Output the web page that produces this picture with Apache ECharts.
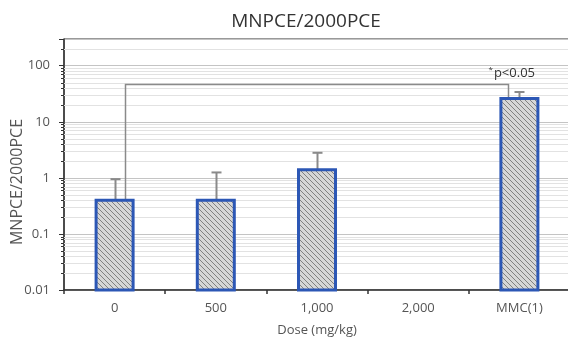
<!DOCTYPE html>
<html><head><meta charset="utf-8">
<script src="https://cdn.jsdelivr.net/npm/echarts@6/dist/echarts.min.js"></script>
<style>html,body{margin:0;padding:0;background:#fff}#c{width:568px;height:340px}</style>
</head><body><div id="c"></div>
<script>
// ---- data ----
const categories = ['0', '500', '1,000', '2,000', 'MMC(1)'];
const means = [0.4, 0.4, 1.4, null, 26];
const errUpper = [0.95, 1.25, 2.8, null, 34];
const yTickLabels = ['0.01', '0.1', '1', '10', '100'];
const sigLevel = 48;
const sigFrom = 0;
const sigTo = 4;
const sigText = 'p<0.05';
const titleText = 'MNPCE/2000PCE';
const yName = 'MNPCE/2000PCE';
const xName = 'Dose (mg/kg)';

const FONT = 'Open Sans';
const Y_MIN = 0.01, Y_MAX = 300;

// hatch pattern
const pc = document.createElement('canvas');
pc.width = 5; pc.height = 5;
const g = pc.getContext('2d');
g.fillStyle = '#d6d6d6'; g.fillRect(0, 0, 5, 5);
g.strokeStyle = '#808080'; g.lineWidth = 1;
g.beginPath();
g.moveTo(-1, -1); g.lineTo(6, 6);
g.moveTo(-1, 4); g.lineTo(1, 6);
g.moveTo(4, -1); g.lineTo(6, 1);
g.stroke();

// minor gridline values (2..9 x each decade)
const minorVals = [];
[0.01, 0.1, 1, 10, 100].forEach(d => { for (let k = 2; k <= 9; k++) { const v = +(d * k).toPrecision(3); if (v < Y_MAX) minorVals.push(v); } });

const chart = echarts.init(document.getElementById('c'));
chart.setOption({
  animation: false,
  backgroundColor: '#fff',
  title: {
    text: titleText, left: 301, top: 7, textAlign: 'center',
    textStyle: { fontFamily: FONT, fontSize: 19, fontWeight: 'normal', color: '#333' }
  },
  graphic: [{
    type: 'text', x: 17, y: 182, rotation: Math.PI / 2, silent: true,
    style: { text: yName, align: 'center', verticalAlign: 'middle', fontFamily: FONT, fontSize: 16, fill: '#555' }
  }],
  grid: { left: 64, top: 39, width: 506, bottom: 50, show: true, borderColor: '#333', borderWidth: 1, containLabel: false, outerBoundsMode: 'none' },
  xAxis: {
    type: 'category', data: categories, boundaryGap: true,
    name: xName, nameLocation: 'middle', nameGap: 34,
    nameTextStyle: { fontFamily: FONT, fontSize: 13, color: '#555' },
    axisLine: { lineStyle: { color: '#333', width: 1.5 } },
    axisTick: { show: true, length: 4, lineStyle: { color: '#333', width: 1.5 } },
    axisLabel: { fontFamily: FONT, fontSize: 13, color: '#555', margin: 12 },
    splitLine: { show: false }
  },
  yAxis: {
    type: 'log', logBase: 10, min: Y_MIN, max: Y_MAX,
    axisLine: { show: true, lineStyle: { color: '#333', width: 1.5 } },
    axisTick: { show: true, length: 5, lineStyle: { color: '#333' } },
    axisLabel: {
      fontFamily: FONT, fontSize: 13, color: '#555', margin: 14,
      formatter: v => { const s = yTickLabels.find(t => Math.abs(parseFloat(t) - v) / v < 1e-6); return s || ''; }
    },
    splitLine: { show: true, lineStyle: { color: '#c4c4c4', width: 1 } }
  },
  series: [
    {
      type: 'custom', z: 1, silent: true,
      data: minorVals.map(v => [0, v]),
      renderItem: (params, api) => {
        const cs = params.coordSys;
        const y = Math.round(api.coord([0, api.value(1)])[1]) + 0.5;
        return {
          type: 'group', children: [
            { type: 'line', shape: { x1: cs.x, y1: y, x2: cs.x + cs.width, y2: y }, style: { stroke: '#e2e2e2', lineWidth: 1 } },
            { type: 'line', shape: { x1: cs.x - 3, y1: y, x2: cs.x, y2: y }, style: { stroke: '#333', lineWidth: 1 } }
          ]
        };
      }
    },
    {
      // bars drawn from the axis minimum (log axis)
      type: 'custom', z: 3, silent: true,
      data: means.map((m, i) => [i, m]).filter(d => d[1] != null),
      renderItem: (params, api) => {
        const i = api.value(0);
        const top = api.coord([i, api.value(1)]);
        const base = api.coord([i, Y_MIN]);
        const w = 37;
        return {
          type: 'rect',
          shape: { x: top[0] - w / 2, y: top[1], width: w, height: base[1] - top[1] },
          style: { fill: { image: pc, repeat: 'repeat' }, stroke: '#2c57b5', lineWidth: 3 }
        };
      }
    },
    {
      type: 'custom', z: 2, silent: true,
      data: means.map((m, i) => [i, m, errUpper[i]]).filter(d => d[1] != null),
      renderItem: (params, api) => {
        const i = api.value(0);
        const p0 = api.coord([i, api.value(1)]);
        const p1 = api.coord([i, api.value(2)]);
        const x = Math.round(p0[0]) + 0.5;
        return {
          type: 'group', children: [
            { type: 'line', shape: { x1: x, y1: p0[1], x2: x, y2: p1[1] }, style: { stroke: '#8a8a8a', lineWidth: 2 } },
            { type: 'line', shape: { x1: x - 5, y1: p1[1], x2: x + 5, y2: p1[1] }, style: { stroke: '#8a8a8a', lineWidth: 2 } }
          ]
        };
      }
    },
    {
      type: 'custom', z: 2, silent: true,
      data: [[sigFrom, sigLevel]],
      renderItem: (params, api) => {
        const a = api.coord([sigFrom, means[sigFrom]]);
        const b = api.coord([sigTo, means[sigTo]]);
        const yl = api.coord([sigFrom, sigLevel])[1];
        const xa = Math.round(a[0]) + 10.5, xb = Math.round(b[0]) - 10.5;
        const yy = Math.round(yl) + 0.5;
        return {
          type: 'group', children: [
            { type: 'polyline', shape: { points: [[xa, a[1]], [xa, yy], [xb, yy], [xb, b[1]]] }, style: { stroke: '#8a8a8a', lineWidth: 1.5, fill: null } },
            {
              type: 'text', x: xb - 20, y: yy - 4,
              style: {
                text: '{s|*}{p|' + sigText + '}', verticalAlign: 'bottom', align: 'left',
                rich: {
                  s: { fontFamily: FONT, fontSize: 8, fill: '#333', verticalAlign: 'top', padding: [0, 1, 7, 0] },
                  p: { fontFamily: FONT, fontSize: 13, fill: '#333' }
                }
              }
            }
          ]
        };
      }
    }
  ]
});
</script>
</body></html>
